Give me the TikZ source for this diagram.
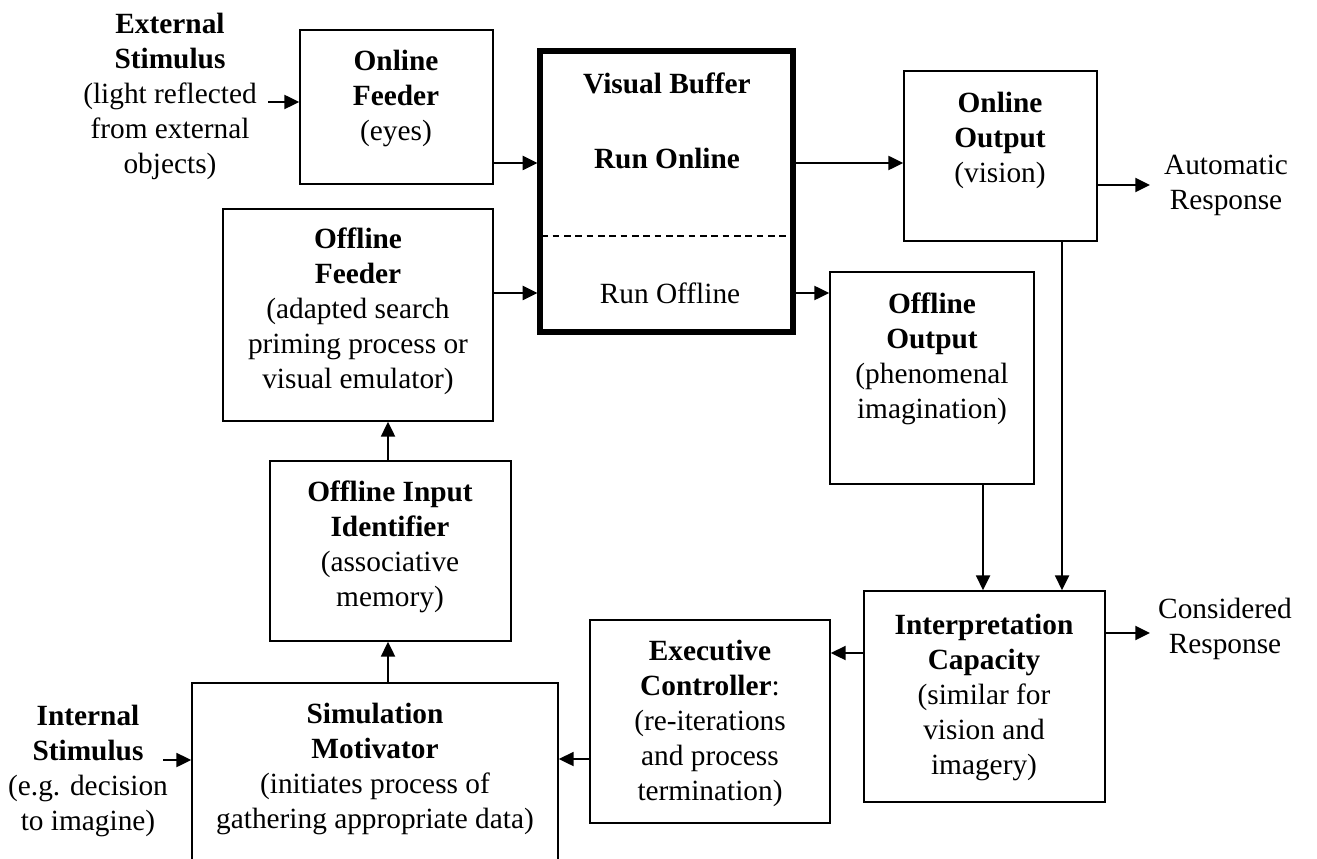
\documentclass[tikz,border=0pt]{standalone}
\usepackage{fontspec}
\setmainfont{Liberation Serif}
\usetikzlibrary{arrows.meta,fit}

\begin{document}
\begin{tikzpicture}[x=0.75pt,y=-0.75pt,
  box/.style={draw, line width=1.3pt, inner sep=0pt},
  buf/.style={draw, line width=3.9pt, inner sep=0pt},
  txt/.style={align=center, inner sep=0pt, anchor=north,
              font=\fontsize{22}{26.25}\selectfont},
  arr/.style={line width=1.4pt, -{Triangle[length=11pt,width=10.5pt]}},
  sep/.style={line width=0.9pt, dash pattern=on 5pt off 3.5pt},
]
\useasboundingbox (0,0) rectangle (1317,859);
\clip (0,0) rectangle (1317,859);

% ---- boxes ----
\node[box, fit={(300,30) (493,184)}]   (onf)  {};
\node[buf, fit={(540,51) (793,332)}]   (vb)   {};
\node[box, fit={(904,71) (1097,241)}]  (onout) {};
\node[box, fit={(223,209) (493,421)}]  (off)  {};
\node[box, fit={(830,272) (1034,484)}] (offout) {};
\node[box, fit={(270,461) (511,641)}]  (oid)  {};
\node[box, fit={(864,591) (1105,802)}] (interp) {};
\node[box, fit={(590,620) (830,823)}]  (exec) {};
\node[box, fit={(192,683) (558,900)}]  (sim)  {};

% divider inside the visual buffer
\draw[sep] (vb.west |- 0,236) ++(4,0) -- ([xshift=-3pt]vb.east |- 0,236);

% ---- texts ----
\node[txt] (ext) at (170,13)
  {\textbf{External}\\\textbf{Stimulus}\\(light reflected\\from external\\objects)};
\node[txt] (onft) at (396,50) {\textbf{Online}\\\textbf{Feeder}\\(eyes)};
\node[txt] (vbt1) at (667,73) {\textbf{Visual Buffer}};
\node[txt] (vbt2) at (667,148) {\textbf{Run Online}};
\node[txt] (vbt3) at (670,283) {Run Offline};
\node[txt] (onoutt) at (1000,92) {\textbf{Online}\\\textbf{Output}\\(vision)};
\node[txt] (auto) at (1226,155) {Automatic\\Response};
\node[txt] (offt) at (358,228)
  {\textbf{Offline}\\\textbf{Feeder}\\(adapted search\\priming process or\\visual emulator)};
\node[txt] (offoutt) at (932,293)
  {\textbf{Offline}\\\textbf{Output}\\(phenomenal\\imagination)};
\node[txt] (oidt) at (390,481)
  {\textbf{Offline Input}\\\textbf{Identifier}\\(associative\\memory)};
\node[txt] (interpt) at (984,614)
  {\textbf{Interpretation}\\\textbf{Capacity}\\(similar for\\vision and\\imagery)};
\node[txt] (cons) at (1225,598) {Considered\\Response};
\node[txt] (exect) at (710,640)
  {\textbf{Executive}\\\textbf{Controller}:\\(re-iterations\\and process\\termination)};
\node[txt] (simt) at (375,703)
  {\textbf{Simulation}\\\textbf{Motivator}\\(initiates process of\\gathering appropriate data)};
\node[txt] (int) at (88,705)
  {\textbf{Internal}\\\textbf{Stimulus}\\(e.g. decision\\to imagine)};

% ---- connector ends outside boxes ----
\coordinate (extout) at (268,102);
\coordinate (intout) at (163,760);
\coordinate (autoin) at (1150,185);
\coordinate (consin) at (1150,633);

% ---- connectors ----
\draw[arr] (extout) -- (onf.west |- extout);
\draw[arr] (onf.east |- 0,163) -- (vb.west |- 0,163);
\draw[arr] (off.east |- 0,293) -- (vb.west |- 0,293);
\draw[arr] (vb.east |- 0,163) -- (onout.west |- 0,163);
\draw[arr] (vb.east |- 0,293) -- (offout.west |- 0,293);
\draw[arr] (onout.east |- autoin) -- (autoin);
\draw[arr] (offout.south -| 983,0) -- (interp.north -| 983,0);
\draw[arr] (onout.south -| 1062,0) -- (interp.north -| 1062,0);
\draw[arr] (interp.east |- consin) -- (consin);
\draw[arr] (interp.west |- 0,653) -- (exec.east |- 0,653);
\draw[arr] (exec.west |- 0,759) -- (sim.east |- 0,759);
\draw[arr] (intout) -- (sim.west |- intout);
\draw[arr] (sim.north -| 388,0) -- (oid.south -| 388,0);
\draw[arr] (oid.north -| 388,0) -- (off.south -| 388,0);
\end{tikzpicture}
\end{document}
